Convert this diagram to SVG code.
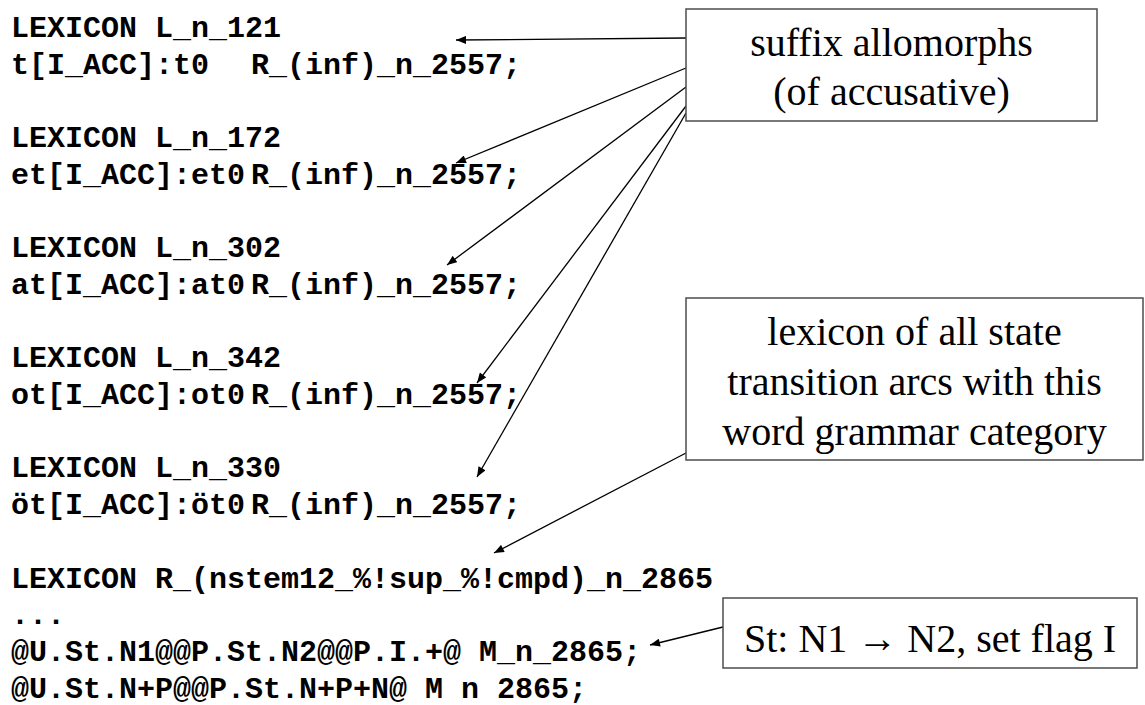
<svg xmlns="http://www.w3.org/2000/svg" width="1145" height="705" viewBox="0 0 1145 705">
<defs>
<style>
.code{font-family:"Liberation Mono","Courier New",monospace;font-weight:bold;font-size:30px;fill:#000}
.lbl{font-family:"Liberation Serif","Times New Roman",serif;font-size:40px;fill:#000;text-anchor:middle}
.box{fill:#fff;stroke:#4d4d4d;stroke-width:1.5}
.con{stroke:#000;stroke-width:1.3;fill:none;marker-end:url(#ah)}
</style>
<marker id="ah" viewBox="0 0 10 8" refX="10" refY="4" markerWidth="11" markerHeight="8" markerUnits="userSpaceOnUse" orient="auto">
<path d="M0,0 L10,4 L0,8 z" fill="#000"/>
</marker>
</defs>
<rect width="1145" height="705" fill="#fff"/>
<g id="code">
<text class="code" x="11" y="37">LEXICON L_n_121</text>
<text class="code" y="74"><tspan x="11">t[I_ACC]:t0</tspan><tspan x="251">R_(inf)_n_2557;</tspan></text>
<text class="code" x="11" y="147">LEXICON L_n_172</text>
<text class="code" y="184"><tspan x="11">et[I_ACC]:et0</tspan><tspan x="251">R_(inf)_n_2557;</tspan></text>
<text class="code" x="11" y="257">LEXICON L_n_302</text>
<text class="code" y="294"><tspan x="11">at[I_ACC]:at0</tspan><tspan x="251">R_(inf)_n_2557;</tspan></text>
<text class="code" x="11" y="367">LEXICON L_n_342</text>
<text class="code" y="404"><tspan x="11">ot[I_ACC]:ot0</tspan><tspan x="251">R_(inf)_n_2557;</tspan></text>
<text class="code" x="11" y="477">LEXICON L_n_330</text>
<text class="code" y="514"><tspan x="11">öt[I_ACC]:öt0</tspan><tspan x="251">R_(inf)_n_2557;</tspan></text>
<text class="code" x="11" y="588">LEXICON R_(nstem12_%!sup_%!cmpd)_n_2865</text>
<text class="code" x="11" y="624">...</text>
<text class="code" x="11" y="661">@U.St.N1@@P.St.N2@@P.I.+@ M_n_2865;</text>
<text class="code" x="11" y="698">@U.St.N+P@@P.St.N+P+N@ M n 2865;</text>
</g>
<g id="connectors">
<line class="con" x1="686" y1="38" x2="456" y2="40"/>
<line class="con" x1="686" y1="68" x2="456" y2="163"/>
<line class="con" x1="686" y1="87" x2="447" y2="265"/>
<line class="con" x1="686" y1="106" x2="477" y2="383"/>
<line class="con" x1="686" y1="113" x2="477" y2="477"/>
<line class="con" x1="686" y1="453" x2="494" y2="553"/>
<line class="con" x1="723" y1="627" x2="650" y2="645"/>
</g>
<g id="box-suffix">
<rect class="box" x="686" y="9" width="411" height="112"/>
<text class="lbl" x="891.5" y="56">suffix allomorphs</text>
<text class="lbl" x="891.5" y="105">(of accusative)</text>
</g>
<g id="box-lexicon">
<rect class="box" x="686" y="298" width="457" height="162"/>
<text class="lbl" x="914.5" y="345">lexicon of all state</text>
<text class="lbl" x="914.5" y="395">transition arcs with this</text>
<text class="lbl" x="914.5" y="445">word grammar category</text>
</g>
<g id="box-st">
<rect class="box" x="723" y="598" width="414" height="70"/>
<text class="lbl" x="930" y="652">St: N1 → N2, set flag I</text>
</g>
</svg>
